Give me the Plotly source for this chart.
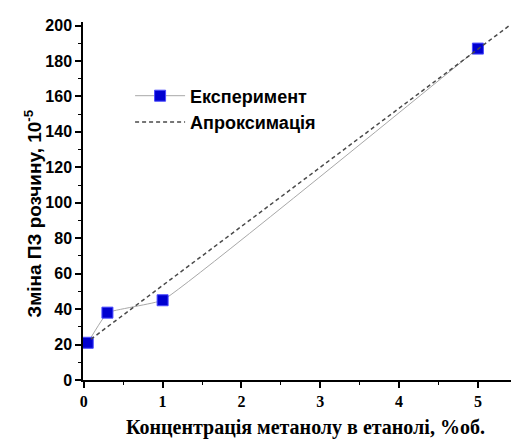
import plotly.graph_objects as go

# Data
exp_x = [0.05, 0.3, 1.0, 5.0]
exp_y = [21, 38, 45, 187]
fit_x = [0.09, 5.4]
fit_y = [23, 200]

x_ticks = [0, 1, 2, 3, 4, 5]
y_ticks = [0, 20, 40, 60, 80, 100, 120, 140, 160, 180, 200]

x_title = "Концентрація метанолу в етанолі, %об."
y_title = "Зміна ПЗ розчину, 10<sup>-5</sup>"

sans = "Liberation Sans, Arial, sans-serif"
serif = "Liberation Serif, Times New Roman, serif"

fig = go.Figure()
fig.add_trace(go.Scatter(
    x=exp_x, y=exp_y, mode="lines+markers", name="Експеримент",
    line=dict(color="#a8a8a8", width=1, shape="spline", smoothing=0.25),
    marker=dict(symbol="square", size=11, color="#0000d0",
                line=dict(color="#4a4aff", width=1)),
    cliponaxis=False, legendgroup="a",
))
fig.add_trace(go.Scatter(
    x=fit_x, y=fit_y, mode="lines", name="Апроксимація",
    line=dict(color="#4a4a4a", width=1.5, dash="4px,3px"),
    legendgroup="b",
))

fig.update_layout(
    width=511, height=441,
    margin=dict(l=83, r=0, t=22, b=61),
    paper_bgcolor="white", plot_bgcolor="white",
    showlegend=True,
    legend=dict(
        x=0.11, y=0.845, xanchor="left", yanchor="top",
        bgcolor="rgba(0,0,0,0)", itemwidth=50,
        font=dict(family=sans, size=18, color="black", weight="bold"),
        traceorder="grouped", tracegroupgap=0,
    ),
    xaxis=dict(
        range=[-0.01, 5.42], tickvals=x_ticks, ticktext=[str(v) for v in x_ticks],
        automargin=False,
        showgrid=False, zeroline=False, showline=True, linecolor="black", linewidth=1.5,
        ticks="outside", ticklen=6, tickwidth=1.5, tickcolor="black",
        ticklabelstandoff=0,
        minor=dict(dtick=0.5, ticks="outside", ticklen=3, tickwidth=1, tickcolor="black"),
        tickfont=dict(family=serif, size=16, color="black", weight="bold"),
    ),
    yaxis=dict(
        range=[0, 202], tickvals=y_ticks, ticktext=[str(v) for v in y_ticks],
        automargin=False,
        showgrid=False, zeroline=False, showline=True, linecolor="black", linewidth=1.5,
        ticks="outside", ticklen=6, tickwidth=1.5, tickcolor="black",
        minor=dict(dtick=10, ticks="outside", ticklen=3, tickwidth=1, tickcolor="black"),
        tickfont=dict(family=sans, size=16, color="black", weight="bold"),
    ),
    annotations=[
        dict(text=x_title, xref="paper", yref="paper", x=0.519, y=-0.134,
             xanchor="center", yanchor="middle", showarrow=False,
             font=dict(family=serif, size=20, color="black", weight="bold")),
        dict(text=y_title, xref="paper", yref="paper", x=-0.117, y=0.467,
             xanchor="center", yanchor="middle", showarrow=False, textangle=-90,
             font=dict(family=sans, size=19, color="black", weight="bold")),
    ],
)

fig.write_html("out.html", config={"displayModeBar": False})

# remove the default page margin so the figure sits at the window's corner
with open("out.html", "r", encoding="utf-8") as f:
    html = f.read()
html = html.replace("<head>", "<head><style>html,body{margin:0;padding:0;overflow:hidden;}</style>", 1)
with open("out.html", "w", encoding="utf-8") as f:
    f.write(html)
